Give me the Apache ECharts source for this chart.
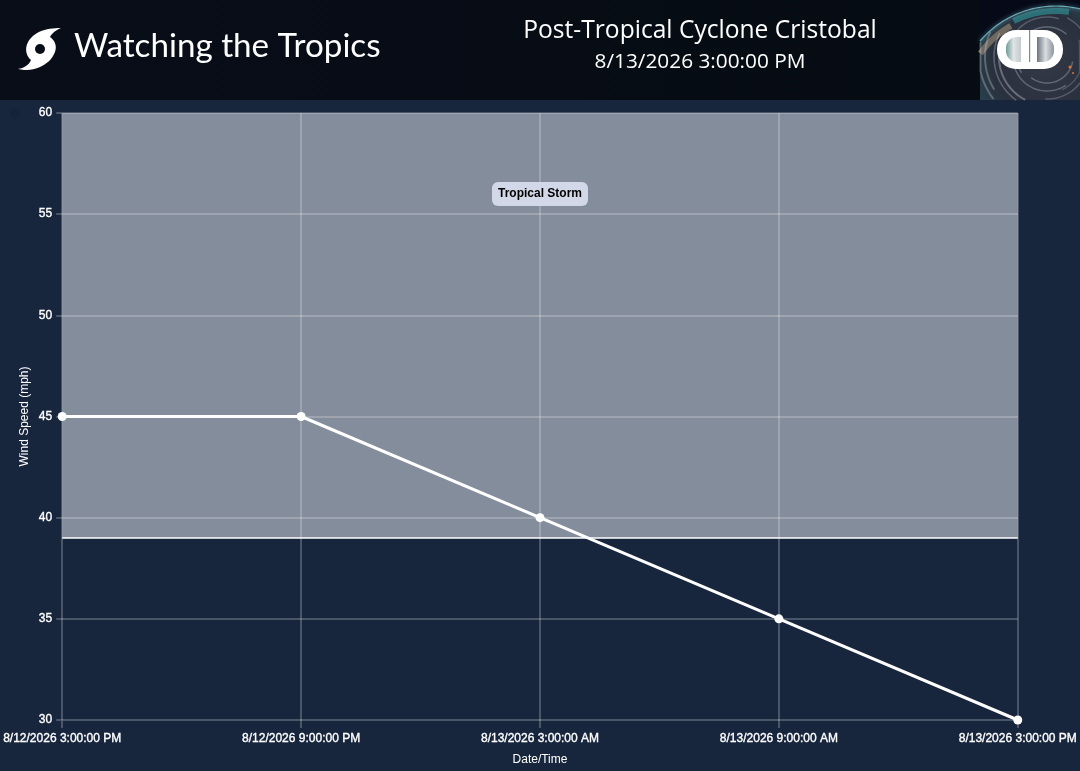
<!DOCTYPE html>
<html><head><meta charset="utf-8">
<style>html,body{margin:0;padding:0;background:#18263d}#c{width:1080px;height:771px}</style>
<script src="https://cdn.jsdelivr.net/npm/echarts@6/dist/echarts.min.js"></script>
</head><body><div id="c"></div>
<script>
const categories = ["8/12/2026 3:00:00 PM","8/12/2026 9:00:00 PM","8/13/2026 3:00:00 AM","8/13/2026 9:00:00 AM","8/13/2026 3:00:00 PM"];
const windSpeed = [45,45,40,35,30];
const tsFloor = 39, tsCeil = 60;
const tsLabel = "Tropical Storm";
const siteTitle = "Watching the Tropics";
const stormName = "Post-Tropical Cyclone Cristobal";
const stormTime = "8/13/2026 3:00:00 PM";
const F = '"Liberation Sans", Arial, sans-serif';
const gridCol = 'rgba(255,255,255,0.22)';
const chart = echarts.init(document.getElementById('c'), null, {renderer:'canvas'});

function cubic(p0,p1,p2,p3,n){const o=[];for(let i=0;i<n;i++){const t=i/n,u=1-t;
  o.push([u*u*u*p0[0]+3*u*u*t*p1[0]+3*u*t*t*p2[0]+t*t*t*p3[0],u*u*u*p0[1]+3*u*u*t*p1[1]+3*u*t*t*p2[1]+t*t*t*p3[1]]);}return o;}
const swirl = [].concat(
  cubic([61,28],[50,28],[38,30],[31,38],12),
  cubic([31,38],[25,44],[24,54],[31,60],12),
  cubic([31,60],[29,65],[24,68],[18,69],8),
  cubic([18,69],[30,72],[43,68],[51,59],12),
  cubic([51,59],[58,50],[57,42],[50,37],12),
  cubic([50,37],[52,33],[56,30],[61,28],8));
const GC=[1056,106], GR=100, EYE=[1047,57];
const inGlobe=p=>Math.hypot(p[0]-GC[0],p[1]-GC[1])<=GR-1&&p[0]>=980&&p[0]<=1080&&p[1]>=0&&p[1]<=100;
const arcPts=(c,r,a0,a1)=>{const o=[];for(let i=0;i<=40;i++){const a=a0+(a1-a0)*i/40;const p=[c[0]+r*Math.cos(a),c[1]+r*Math.sin(a)];if(inGlobe(p))o.push(p);}return o;};
const globeShape=[[980,100],[1080,100],[1080,7]];
for(let x=1080;x>=980;x-=2){const y=GC[1]-Math.sqrt(GR*GR-(x-GC[0])*(x-GC[0]));globeShape.push([x,y]);}
const limb=globeShape.slice(3);
const cloudArcs=[[30,2.6,5.4,.3,1.5],[34,1.0,3.4,.3,1.5],[40,2.9,5.0,.25,1.5],[44,5.2,7.0,.25,1.5],[48,1.3,3.2,.35,2],[53,2.2,3.6,.3,1.5],[57,4.7,6.1,.22,1.5],[62,0.2,1.4,.2,1.5],[62,2.6,4.6,.3,2],[68,2.0,3.5,.3,2],[36,5.8,7.4,.2,1.5],[52,5.6,6.6,.2,1.5],[26,0.2,2.2,.3,1.5],[76,3.0,4.3,.28,2],[72,4.4,5.0,.2,2],[84,2.6,3.4,.3,2],[42,0.6,1.6,.25,1.5],[56,0.9,1.9,.25,1.5]]
  .map(a=>({type:'polyline',silent:true,shape:{points:arcPts(EYE,a[0],a[1],a[2])},style:{stroke:'rgba(215,222,230,'+a[3]+')',lineWidth:a[4],fill:null,lineCap:'round'}}));
const s=(o)=>Object.assign({silent:true},o);

chart.setOption({
  backgroundColor:'#18263d',
  animation:false,
  grid:{left:61.6,right:62,top:113,bottom:51,containLabel:false},
  xAxis:{type:'category',data:categories,boundaryGap:false,
    name:'Date/Time',nameLocation:'middle',nameGap:34,nameMoveOverlap:false,
    nameTextStyle:{color:'#fff',fontFamily:F,fontSize:12,fontWeight:'normal'},
    axisLine:{show:false},
    axisTick:{show:true,alignWithLabel:true,length:8,lineStyle:{color:gridCol,width:2}},
    axisLabel:{color:'#fff',fontFamily:F,fontSize:12,fontWeight:'normal',textBorderColor:'#fff',textBorderWidth:0.35,margin:13,interval:0,hideOverlap:false,showMinLabel:true,showMaxLabel:true},
    splitLine:{show:true,lineStyle:{color:gridCol,width:2}}},
  yAxis:{type:'value',min:30,max:60,interval:5,
    name:'Wind Speed (mph)',nameLocation:'middle',nameGap:32,nameMoveOverlap:false,
    nameTextStyle:{color:'#fff',fontFamily:F,fontSize:12,fontWeight:'normal'},
    axisLine:{show:false},
    axisTick:{show:true,length:6,lineStyle:{color:gridCol,width:2}},
    axisLabel:{color:'#fff',fontFamily:F,fontSize:12,fontWeight:'normal',textBorderColor:'#fff',textBorderWidth:0.35,margin:10,padding:[5,0,0,0]},
    splitLine:{show:true,lineStyle:{color:gridCol,width:2}}},
  series:[{type:'line',data:windSpeed,z:5,
    lineStyle:{color:'#fff',width:3},
    itemStyle:{color:'#fff'},symbol:'circle',symbolSize:9,
    clip:false,
    markArea:{silent:true,itemStyle:{color:'rgba(246,250,255,0.485)'},
      label:{show:true,position:'insideTop',distance:69,formatter:tsLabel,color:'#000',fontFamily:F,fontSize:12,fontWeight:'bold',
        backgroundColor:'#d3d8e8',borderRadius:6,padding:[6,6,6,6]},
      data:[[{yAxis:tsFloor,xAxis:categories[0]},{yAxis:tsCeil,xAxis:categories[4]}]]},
    markLine:{silent:true,symbol:'none',label:{show:false},lineStyle:{color:'#fff',width:1.5,type:'solid'},
      data:[{yAxis:tsFloor}]}
  }],
  graphic:[
    s({type:'rect',shape:{x:0,y:0,width:1080,height:100},
      style:{fill:{type:'linear',x:0,y:0,x2:1,y2:0,colorStops:[{offset:0,color:'#080d18'},{offset:1,color:'#060c12'}]}}}),
    s({type:'circle',shape:{cx:15,cy:113,r:5},style:{fill:'#15223a'}}),
    s({type:'polygon',shape:{points:swirl},style:{fill:'#fff'}}),
    s({type:'circle',shape:{cx:40,cy:49,r:5},style:{fill:'#080d18'}}),
    s({type:'text',style:{x:74,y:46,text:siteTitle,fill:'#fff',font:'33.2px Lato, "Liberation Sans", sans-serif',verticalAlign:'middle'}}),
    s({type:'text',style:{x:700,y:31,text:stormName,fill:'#fff',align:'center',verticalAlign:'middle',font:'24.6px "Open Sans", "Liberation Sans", sans-serif'}}),
    s({type:'text',style:{x:700,y:62,text:stormTime,fill:'#fff',align:'center',verticalAlign:'middle',font:'20.8px "Open Sans", "Liberation Sans", sans-serif'}}),
    s({type:'rect',shape:{x:980,y:0,width:100,height:100},style:{fill:'#060a18'}}),
    s({type:'polygon',shape:{points:globeShape},style:{fill:{type:'radial',x:0.62,y:0.6,r:0.75,colorStops:[{offset:0,color:'#343947'},{offset:0.7,color:'#2a303d'},{offset:1,color:'#27404c'}]}}}),
    s({type:'polyline',shape:{points:arcPts(GC,95,4.25,4.85)},style:{stroke:'#2e7078',lineWidth:6,fill:null}}),
    s({type:'polyline',shape:{points:arcPts(GC,92,3.75,4.2)},style:{stroke:'#6f6a60',lineWidth:6,fill:null}}),
    s({type:'polyline',shape:{points:arcPts(GC,92,3.1,3.6)},style:{stroke:'#46756e',lineWidth:5,fill:null}}),
    ...cloudArcs,
    s({type:'polyline',shape:{points:limb},style:{stroke:'#7fd0dc',lineWidth:1.2,fill:null,opacity:0.75,shadowBlur:4,shadowColor:'#7fd0dc'}}),
    s({type:'circle',shape:{cx:1070,cy:67,r:1.5},style:{fill:'#d9743a'}}),
    s({type:'circle',shape:{cx:1073,cy:73,r:1},style:{fill:'#d9743a'}}),
    s({type:'rect',shape:{x:997,y:30,width:66,height:39,r:19},style:{fill:'#fff'}}),
    s({type:'rect',shape:{x:1006,y:37,width:15,height:25,r:[11,0,0,11]},style:{fill:{type:'linear',x:0,y:0,x2:1,y2:0,colorStops:[{offset:0,color:'#6f9a98'},{offset:0.5,color:'#dfe4e4'},{offset:1,color:'#c4cace'}]}}}),
    s({type:'rect',shape:{x:1037,y:37,width:17,height:25,r:[0,11,11,0]},style:{fill:{type:'linear',x:0,y:0,x2:1,y2:0,colorStops:[{offset:0,color:'#6d7480'},{offset:0.5,color:'#d9dde0'},{offset:1,color:'#8d949e'}]}}}),
    s({type:'rect',shape:{x:1029,y:30,width:1.2,height:32},style:{fill:'#7f8a92'}})
  ]
});
</script></body></html>
